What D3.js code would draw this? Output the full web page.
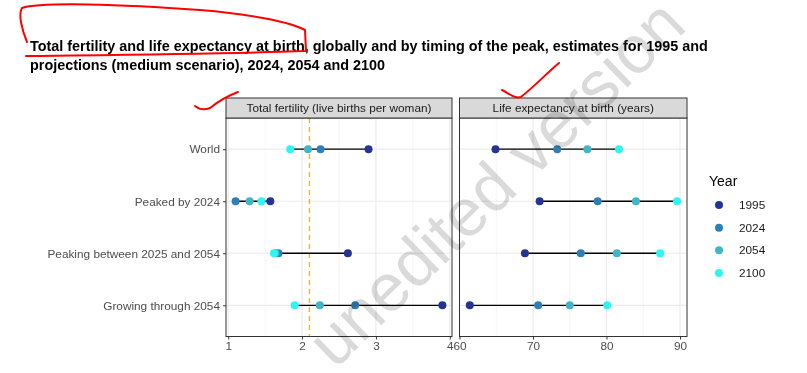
<!DOCTYPE html>
<html>
<head>
<meta charset="utf-8">
<script src="https://cdn.jsdelivr.net/npm/d3@7"></script>
<style>
  body { margin: 0; background: #fff; }
  text { font-family: "Liberation Sans", Arial, sans-serif; }
</style>
</head>
<body>
<div id="chart"></div>
<script>
// Chart data
var groups = ["World", "Peaked by 2024", "Peaking between 2025 and 2054", "Growing through 2054"];
var years = ["1995", "2024", "2054", "2100"];
var yearColors = ["#253494", "#2c7fb8", "#41b6c4", "#2ef5f5"];

// values per group, in the order of years
var fertility = [
  [2.90, 2.25, 2.08, 1.84],
  [1.57, 1.10, 1.29, 1.45],
  [2.62, 1.68, 1.64, 1.62],
  [3.90, 2.72, 2.24, 1.90]
];
var lifeExp = [
  [64.9, 73.3, 77.4, 81.7],
  [70.9, 78.8, 84.0, 89.6],
  [68.9, 76.5, 81.4, 87.3],
  [61.4, 70.7, 75.0, 80.1]
];
var fertTicks = [1, 2, 3, 4];
var fertMinor = [1.5, 2.5, 3.5];
var lifeTicks = [60, 70, 80, 90];
var lifeMinor = [65, 75, 85];
var replacementLevel = 2.1;

var svgWidth = 807;
var svgHeight = 373;

var svg = d3.select("#chart")
  .append("svg")
  .attr("width", svgWidth)
  .attr("height", svgHeight);

// Title
var title = svg.append("text")
  .attr("x", 30)
  .attr("y", 51)
  .attr("font-size", "14.4px")
  .attr("font-weight", "bold")
  .attr("fill", "#000");
title.append("tspan").attr("x", 30).attr("dy", 0)
  .text("Total fertility and life expectancy at birth, globally and by timing of the peak, estimates for 1995 and");
title.append("tspan").attr("x", 30).attr("dy", 19)
  .text("projections (medium scenario), 2024, 2054 and 2100");

// Shared y scale (discrete categories)
var panelTop = 118;
var panelBottom = 336.5;
var yScale = d3.scalePoint()
  .domain(groups)
  .range([panelTop, panelBottom])
  .padding(0.6);

var panels = [
  { name: "Total fertility (live births per woman)", left: 226, right: 452,
    domain: [0.97, 4.03], ticks: fertTicks, minor: fertMinor, values: fertility, refLine: replacementLevel },
  { name: "Life expectancy at birth (years)", left: 459.5, right: 687,
    domain: [60, 90.95], ticks: lifeTicks, minor: lifeMinor, values: lifeExp, refLine: null }
];

var labelSize = "11.8px";

panels.forEach(function(p, pi) {
  var x = d3.scaleLinear().domain(p.domain).range([p.left, p.right]);
  var g = svg.append("g");

  // grid lines
  g.selectAll(".minor").data(p.minor).enter().append("line")
    .attr("x1", d => x(d)).attr("x2", d => x(d))
    .attr("y1", panelTop).attr("y2", panelBottom)
    .attr("stroke", "#f2f2f2").attr("stroke-width", 0.8);
  g.selectAll(".major").data(p.ticks).enter().append("line")
    .attr("x1", d => x(d)).attr("x2", d => x(d))
    .attr("y1", panelTop).attr("y2", panelBottom)
    .attr("stroke", "#ebebeb").attr("stroke-width", 1.2);
  g.selectAll(".hgrid").data(groups).enter().append("line")
    .attr("x1", p.left).attr("x2", p.right)
    .attr("y1", d => yScale(d)).attr("y2", d => yScale(d))
    .attr("stroke", "#ebebeb").attr("stroke-width", 1.2);

  // replacement level line
  if (p.refLine !== null) {
    g.append("line")
      .attr("x1", x(p.refLine)).attr("x2", x(p.refLine))
      .attr("y1", panelTop).attr("y2", panelBottom)
      .attr("stroke", "#eab443").attr("stroke-width", 1.4)
      .attr("stroke-dasharray", "5,4");
  }

  // range segments
  g.selectAll(".seg").data(p.values).enter().append("line")
    .attr("x1", d => x(d3.min(d))).attr("x2", d => x(d3.max(d)))
    .attr("y1", (d, i) => yScale(groups[i])).attr("y2", (d, i) => yScale(groups[i]))
    .attr("stroke", "#000").attr("stroke-width", 1.3);

  // points, drawn year by year
  years.forEach(function(yr, yi) {
    g.selectAll(".pt" + yi).data(p.values).enter().append("circle")
      .attr("cx", d => x(d[yi]))
      .attr("cy", (d, i) => yScale(groups[i]))
      .attr("r", 4)
      .attr("fill", yearColors[yi]);
  });

  // panel border
  g.append("rect")
    .attr("x", p.left).attr("y", panelTop)
    .attr("width", p.right - p.left).attr("height", panelBottom - panelTop)
    .attr("fill", "none").attr("stroke", "#333").attr("stroke-width", 1);

  // strip
  g.append("rect")
    .attr("x", p.left).attr("y", 98)
    .attr("width", p.right - p.left).attr("height", panelTop - 98)
    .attr("fill", "#d9d9d9").attr("stroke", "#333").attr("stroke-width", 1);
  g.append("text")
    .attr("x", (p.left + p.right) / 2).attr("y", 112)
    .attr("text-anchor", "middle")
    .attr("font-size", labelSize)
    .attr("fill", "#1a1a1a")
    .text(p.name);

  // x axis
  var xAxis = d3.axisBottom(x).tickValues(p.ticks).tickFormat(d3.format("d"))
    .tickSize(3).tickPadding(2);
  var ax = g.append("g")
    .attr("transform", `translate(0, ${panelBottom})`)
    .call(xAxis);
  ax.select(".domain").remove();
  ax.selectAll("line").attr("stroke", "#333");
  ax.selectAll("text").attr("font-size", labelSize).attr("fill", "#4d4d4d")
    .attr("font-family", "Liberation Sans, Arial, sans-serif");

  // y axis on the first panel only
  if (pi === 0) {
    var yAxis = d3.axisLeft(yScale).tickSize(3).tickPadding(3);
    var ay = g.append("g")
      .attr("transform", `translate(${p.left}, 0)`)
      .call(yAxis);
    ay.select(".domain").remove();
    ay.selectAll("line").attr("stroke", "#333");
    ay.selectAll("text").attr("font-size", labelSize).attr("fill", "#4d4d4d")
      .attr("font-family", "Liberation Sans, Arial, sans-serif");
  }
});

// Legend
var legend = svg.append("g").attr("transform", "translate(709, 0)");
legend.append("text")
  .attr("x", 0).attr("y", 186)
  .attr("font-size", "14px").attr("fill", "#000")
  .text("Year");
var legendY = d3.scalePoint().domain(years).range([205, 273]);
legend.selectAll(".key").data(years).enter().append("circle")
  .attr("cx", 10).attr("cy", d => legendY(d))
  .attr("r", 4)
  .attr("fill", (d, i) => yearColors[i]);
legend.selectAll(".keyText").data(years).enter().append("text")
  .attr("x", 30).attr("y", d => legendY(d) + 4)
  .attr("font-size", labelSize).attr("fill", "#1a1a1a")
  .text(d => d);

// Watermark, laid over the page like a stamp
svg.append("text")
  .attr("transform", "translate(335, 370) rotate(-44)")
  .attr("font-size", "67px")
  .attr("fill", "#dadada")
  .style("mix-blend-mode", "multiply")
  .text("unedited version");

// Red hand annotations
var red = svg.append("g").attr("fill", "none").attr("stroke", "#f00")
  .attr("stroke-width", 2).attr("stroke-linecap", "round");
red.append("path").attr("d", "M27,42 C22,30 18,14 22,8 C40,2 120,4 200,10 C250,14 290,22 305,30 L306,51 C220,54 100,55 26,56");
red.append("path").attr("d", "M195,106 C200,110 205,110 210,108 C220,100 230,95 238,92");
red.append("path").attr("d", "M502,90 C510,94 515,99 521,97 C535,86 548,72 559,63");
</script>
</body>
</html>
